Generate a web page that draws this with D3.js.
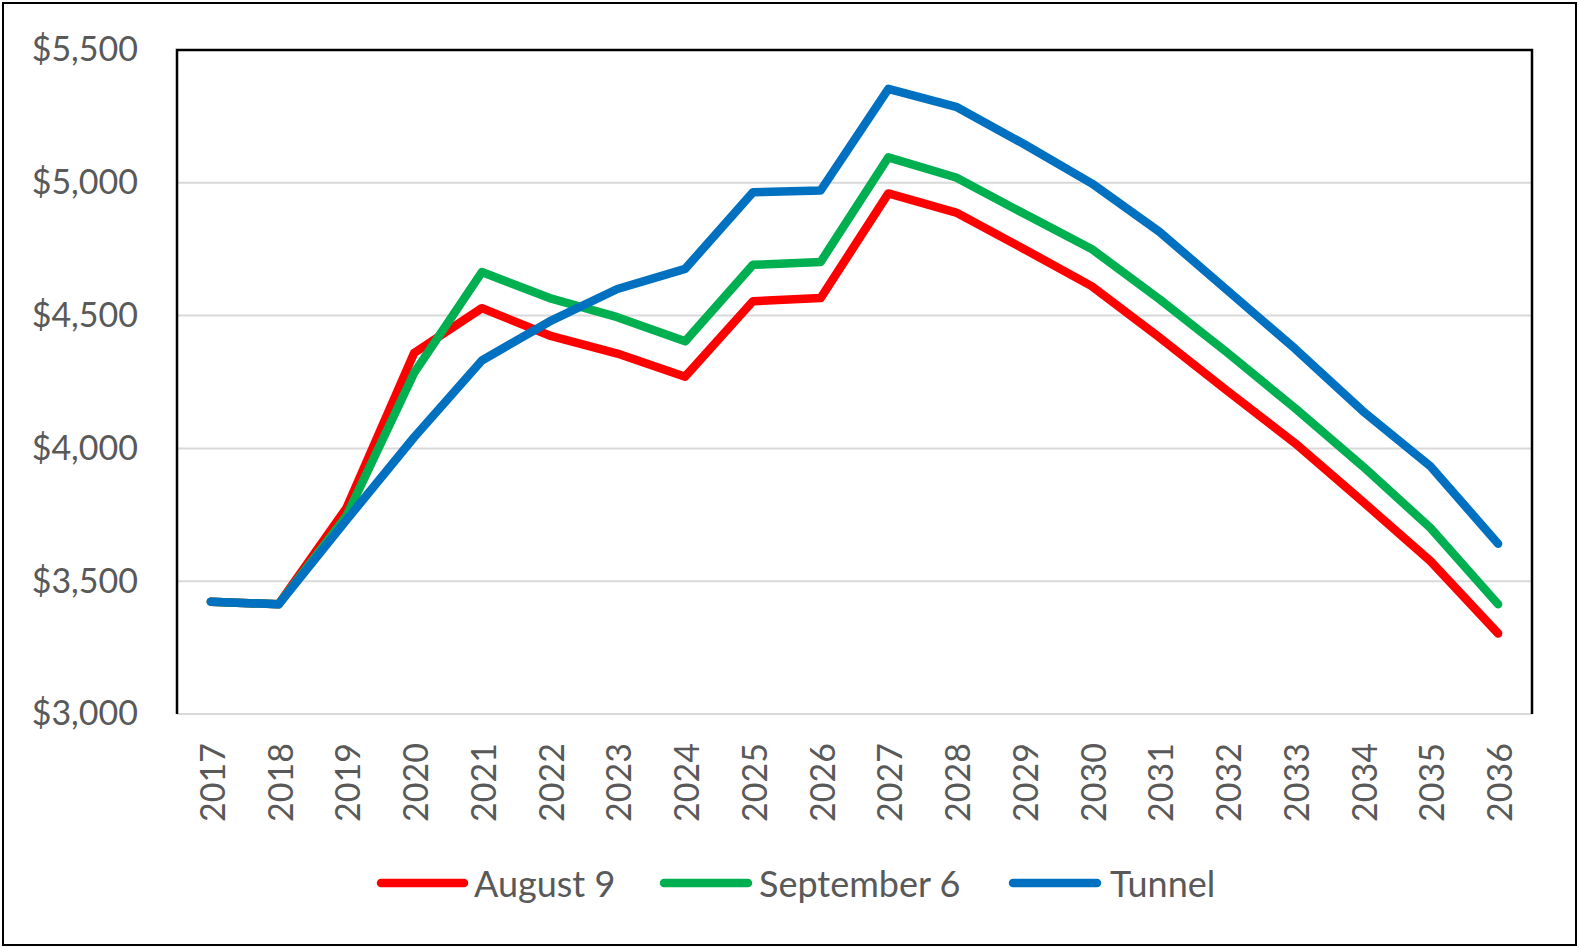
<!DOCTYPE html>
<html>
<head>
<meta charset="utf-8">
<script src="https://cdn.jsdelivr.net/npm/d3@7"></script>
<style>
  html, body { margin: 0; padding: 0; background: #fff; }
  svg { display: block; }
  text { font-family: Lato, "Open Sans", "Liberation Sans", sans-serif; fill: #595959; }
</style>
</head>
<body>
<svg id="chart" width="1579" height="948"></svg>
<script>
const years = ["2017","2018","2019","2020","2021","2022","2023","2024","2025","2026","2027","2028","2029","2030","2031","2032","2033","2034","2035","2036"];
const august9 = [3423,3413,3775,4359,4528,4425,4357,4270,4554,4566,4960,4888,4751,4611,4418,4217,4020,3800,3576,3303];
const september6 = [3423,3413,3745,4284,4664,4566,4494,4403,4691,4702,5096,5020,4884,4751,4562,4361,4152,3933,3701,3413];
const tunnel = [3423,3413,3730,4042,4331,4478,4600,4676,4964,4971,5354,5286,5146,4998,4816,4596,4376,4141,3933,3641];
const seriesNames = ["August 9","September 6","Tunnel"];
const seriesColors = ["#FF0000","#00B050","#0070C0"];
const yTicks = [3000,3500,4000,4500,5000,5500];

const svg = d3.select("#chart");
const W = 1579, H = 948;
const plot = {left: 177, right: 1532, top: 50, bottom: 714};

// outer border
svg.append("rect").attr("x", 3).attr("y", 3).attr("width", W - 6).attr("height", H - 6)
  .attr("fill", "#fff").attr("stroke", "#000").attr("stroke-width", 2);

const x = d3.scalePoint().domain(years).range([plot.left, plot.right]).padding(0.5);
const y = d3.scaleLinear().domain([3000, 5500]).range([plot.bottom, plot.top]);

// gridlines
svg.append("g").selectAll("line").data(yTicks.filter(t => t > 3000 && t < 5500)).join("line")
  .attr("x1", plot.left).attr("x2", plot.right)
  .attr("y1", d => y(d)).attr("y2", d => y(d))
  .attr("stroke", "#d9d9d9").attr("stroke-width", 2);

// y axis labels
const yAxis = d3.axisLeft(y).tickValues(yTicks).tickSize(0).tickPadding(0)
  .tickFormat(d => "$" + d3.format(",")(d));
const yg = svg.append("g").attr("transform", `translate(${plot.left - 39},0)`).call(yAxis);
yg.select(".domain").remove();
yg.selectAll("text").attr("font-size", 34).attr("fill", "#595959")
  .style("font-family", "Lato, 'Open Sans', sans-serif");

// x axis
const xAxis = d3.axisBottom(x).tickSize(0).tickPadding(0);
const xg = svg.append("g").attr("transform", `translate(0,${plot.bottom})`).call(xAxis);
xg.select(".domain").remove();
xg.selectAll("text")
  .attr("font-size", 34).attr("fill", "#595959")
  .style("font-family", "Lato, 'Open Sans', sans-serif")
  .attr("text-anchor", "end").attr("dy", null).attr("y", null)
  .attr("dominant-baseline", "central")
  .attr("transform", "translate(0,29) rotate(-90)");

// bottom axis line
svg.append("line").attr("x1", plot.left).attr("x2", plot.right)
  .attr("y1", plot.bottom).attr("y2", plot.bottom)
  .attr("stroke", "#d9d9d9").attr("stroke-width", 2);

// plot frame: top, left, right black
svg.append("path")
  .attr("d", `M${plot.left},${plot.bottom} L${plot.left},${plot.top} L${plot.right},${plot.top} L${plot.right},${plot.bottom}`)
  .attr("fill", "none").attr("stroke", "#000").attr("stroke-width", 2.5);

// lines
const allSeries = [august9, september6, tunnel];
const line = d3.line().x((d, i) => x(years[i])).y(d => y(d));
svg.append("g").selectAll("path").data(allSeries).join("path")
  .attr("d", d => line(d))
  .attr("fill", "none")
  .attr("stroke", (d, i) => seriesColors[i])
  .attr("stroke-width", 8.5)
  .attr("stroke-linecap", "round")
  .attr("stroke-linejoin", "round");

// legend
const legendItems = [
  {x1: 381, x2: 464, tx: 474},
  {x1: 664, x2: 748, tx: 759},
  {x1: 1013, x2: 1097, tx: 1110}
];
const lg = svg.append("g");
const ly = 883;
legendItems.forEach((it, i) => {
  lg.append("line").attr("x1", it.x1).attr("x2", it.x2).attr("y1", ly).attr("y2", ly)
    .attr("stroke", seriesColors[i]).attr("stroke-width", 8.5).attr("stroke-linecap", "round");
  lg.append("text").attr("x", it.tx).attr("y", ly).attr("dominant-baseline", "central")
    .attr("font-size", 36).text(seriesNames[i]);
});
</script>
</body>
</html>
